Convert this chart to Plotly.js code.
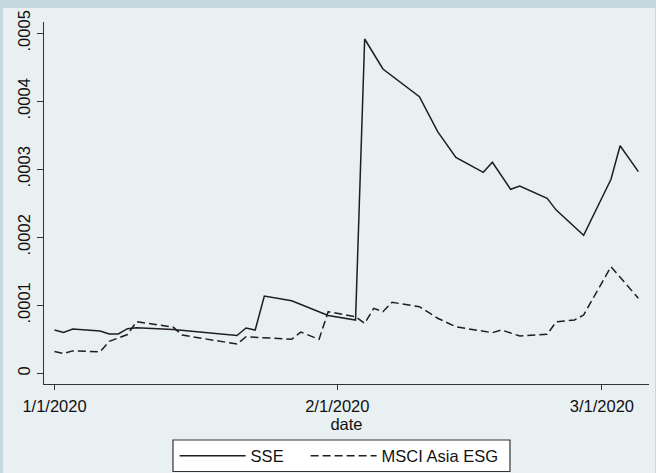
<!DOCTYPE html>
<html>
<head>
<meta charset="utf-8">
<script src="https://cdn.plot.ly/plotly-3.0.1.min.js"></script>
<style>html,body{margin:0;padding:0;}#chart{width:656px;height:473px;}</style>
</head>
<body>
<div id="chart"></div>
<script>
// SSE series (visible vertices)
const sseDates = ['2020-01-01','2020-01-02','2020-01-03','2020-01-06','2020-01-07','2020-01-08','2020-01-09','2020-01-10','2020-01-14','2020-01-21','2020-01-22','2020-01-23','2020-01-24','2020-01-27','2020-01-31','2020-02-03','2020-02-04','2020-02-06','2020-02-10','2020-02-12','2020-02-14','2020-02-17','2020-02-18','2020-02-20','2020-02-21','2020-02-24','2020-02-25','2020-02-26','2020-02-27','2020-02-28','2020-03-02','2020-03-03','2020-03-05'];
const sseValues = [0.0000637,0.0000600,0.0000651,0.0000622,0.0000578,0.0000578,0.0000656,0.0000670,0.0000645,0.0000556,0.0000666,0.0000637,0.0001137,0.0001068,0.0000850,0.0000784,0.0004916,0.0004475,0.0004068,0.0003553,0.0003176,0.0002956,0.0003103,0.0002706,0.0002754,0.0002574,0.0002400,0.0002280,0.0002157,0.0002030,0.0002853,0.0003347,0.0002965];

// MSCI Asia ESG series (visible vertices)
const msciDates = ['2020-01-01','2020-01-02','2020-01-03','2020-01-06','2020-01-07','2020-01-09','2020-01-10','2020-01-14','2020-01-15','2020-01-21','2020-01-22','2020-01-27','2020-01-28','2020-01-30','2020-01-31','2020-02-03','2020-02-04','2020-02-05','2020-02-06','2020-02-07','2020-02-10','2020-02-12','2020-02-14','2020-02-17','2020-02-18','2020-02-19','2020-02-21','2020-02-24','2020-02-25','2020-02-27','2020-02-28','2020-03-02','2020-03-05'];
const msciValues = [0.0000320,0.0000290,0.0000330,0.0000315,0.0000470,0.0000570,0.0000760,0.0000680,0.0000563,0.0000430,0.0000538,0.0000500,0.0000607,0.0000500,0.0000906,0.0000832,0.0000735,0.0000956,0.0000906,0.0001044,0.0000980,0.0000810,0.0000685,0.0000626,0.0000597,0.0000637,0.0000549,0.0000573,0.0000759,0.0000784,0.0000857,0.0001568,0.0001103];

const yTickVals = [0, 0.0001, 0.0002, 0.0003, 0.0004, 0.0005];
const yTickText = ['0', '.0001', '.0002', '.0003', '.0004', '.0005'];
const xTickVals = ['2020-01-01', '2020-02-01', '2020-03-01'];
const xTickText = ['1/1/2020', '2/1/2020', '3/1/2020'];

const FS = 16.5;

const traces = [
  {x: sseDates, y: sseValues, name: 'SSE', type: 'scatter', mode: 'lines',
   legend: 'legend',
   line: {color: '#1e1e1e', width: 1.5}},
  {x: msciDates, y: msciValues, name: 'MSCI Asia ESG', type: 'scatter', mode: 'lines',
   legend: 'legend2',
   line: {color: '#1e1e1e', width: 1.5, dash: '8px,4px'}}
];

const legendCommon = {
  orientation: 'h', yanchor: 'middle', xanchor: 'left',
  bgcolor: 'rgba(0,0,0,0)', borderwidth: 0,
  itemwidth: 66, font: {size: FS}
};

const layout = {
  width: 656, height: 473,
  margin: {l: 44, r: 7, t: 22, b: 89, pad: 0, autoexpand: false},
  paper_bgcolor: '#c5d8e0',
  plot_bgcolor: '#ffffff',
  font: {family: 'Liberation Sans, Arial, sans-serif', size: FS, color: '#111'},
  showlegend: true,
  xaxis: {
    type: 'date',
    range: ['2019-12-30 20:24', '2020-03-06 04:00'],
    tickvals: xTickVals, ticktext: xTickText,
    ticks: 'outside', ticklen: 5, tickcolor: '#333', tickwidth: 1,
    showgrid: false, zeroline: false,
    showline: true, linecolor: '#333', linewidth: 1.2,
    tickfont: {size: FS},
    ticklabelstandoff: 2,
    title: {text: 'date', font: {size: FS}, standoff: 0}
  },
  yaxis: {
    range: [-0.0000157, 0.0005166],
    tickvals: yTickVals, ticktext: yTickText,
    tickangle: -90,
    ticks: 'outside', ticklen: 6, tickcolor: '#333', tickwidth: 1,
    showgrid: true, gridcolor: '#e8f0f2', gridwidth: 1.2,
    zeroline: false,
    showline: true, linecolor: '#333', linewidth: 1.2,
    tickfont: {size: FS},
    ticklabelstandoff: 0
  },
  legend: Object.assign({}, legendCommon, {x: 0.2159, y: -0.1989}),
  legend2: Object.assign({}, legendCommon, {x: 0.4324, y: -0.1989}),
  shapes: [{
    type: 'rect', xref: 'paper', yref: 'paper', layer: 'below',
    x0: -0.0678, x1: 1.0099, y0: -0.2459, y1: 1.0387,
    fillcolor: '#e9f0f2', line: {width: 0}
  }, {
    type: 'rect', xref: 'paper', yref: 'paper', layer: 'below',
    x0: 0.2132, x1: 0.7702, y0: -0.1547, y1: -0.2417,
    fillcolor: '#ffffff', line: {width: 1.2, color: '#333'}
  }]
};

Plotly.newPlot('chart', traces, layout, {displayModeBar: false, staticPlot: true});
</script>
</body>
</html>
